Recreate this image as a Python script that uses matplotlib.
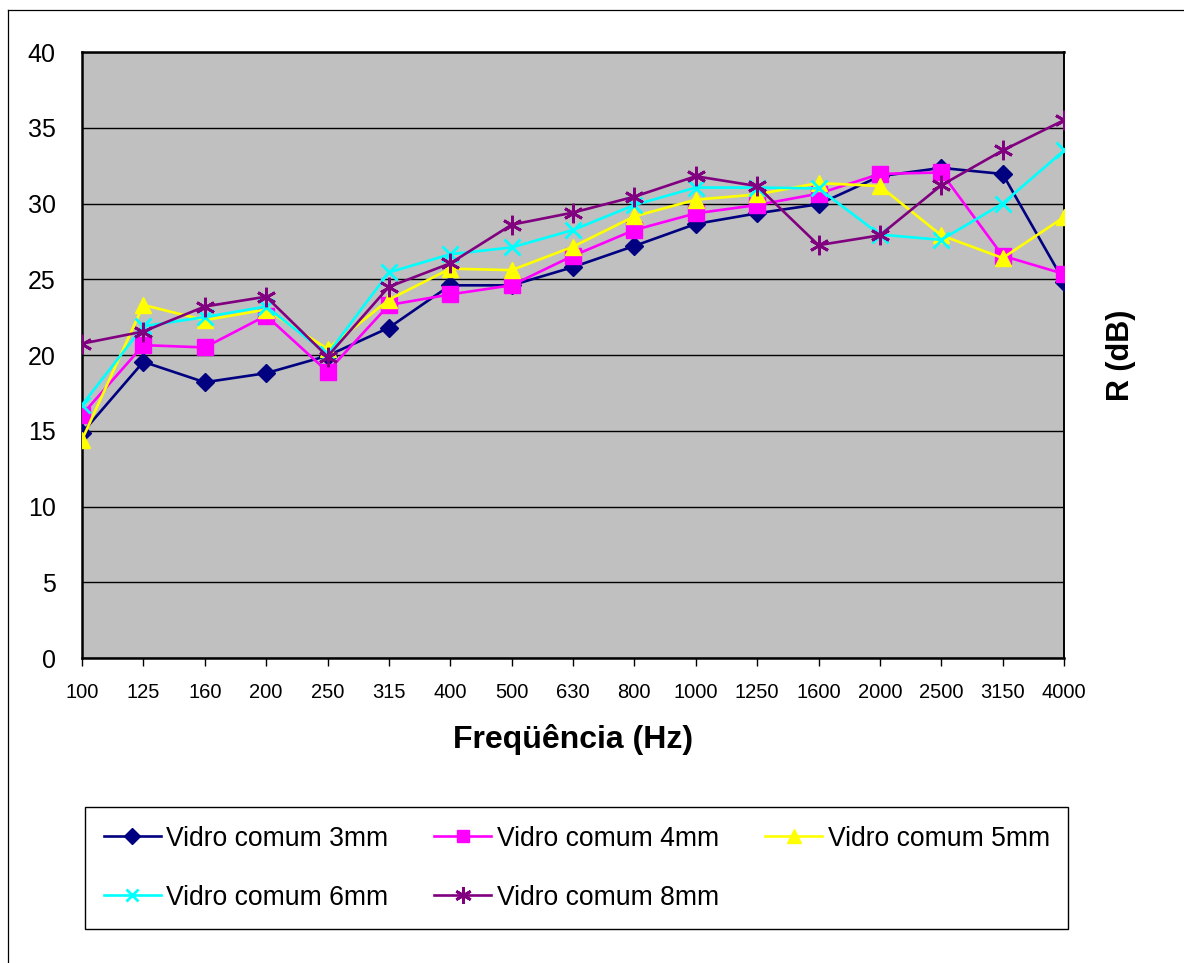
import matplotlib
matplotlib.use("Agg")
import matplotlib.pyplot as plt
from matplotlib.lines import Line2D

plt.rcParams['font.family'] = ['Liberation Sans', 'DejaVu Sans']

# frequencias (Hz)
freqs = ['100', '125', '160', '200', '250', '315', '400', '500', '630', '800',
         '1000', '1250', '1600', '2000', '2500', '3150', '4000']

# R (dB)
vidro_3mm = [14.85, 19.55, 18.2, 18.8, 19.95, 21.8, 24.6, 24.6, 25.8, 27.2,
             28.65, 29.35, 29.95, 31.8, 32.35, 31.95, 24.85]
vidro_4mm = [16.05, 20.65, 20.5, 22.6, 18.9, 23.3, 24.0, 24.6, 26.55, 28.25,
             29.35, 29.9, 30.65, 31.95, 32.05, 26.55, 25.35]
vidro_5mm = [14.4, 23.3, 22.3, 23.0, 20.4, 23.65, 25.7, 25.6, 27.15, 29.15,
             30.25, 30.6, 31.35, 31.15, 27.9, 26.4, 29.1]
vidro_6mm = [16.7, 21.9, 22.5, 23.2, 20.05, 25.45, 26.65, 27.1, 28.25, 29.9,
             31.05, 31.05, 31.0, 27.95, 27.6, 30.0, 33.5]
vidro_8mm = [20.75, 21.55, 23.2, 23.85, 19.9, 24.5, 26.05, 28.6, 29.4, 30.45,
             31.8, 31.15, 27.25, 27.9, 31.2, 33.5, 35.5]

labels = ['Vidro comum 3mm', 'Vidro comum 4mm', 'Vidro comum 5mm',
          'Vidro comum 6mm', 'Vidro comum 8mm']
cores = ['#000080', '#FF00FF', '#FFFF00', '#00FFFF', '#800080']

W, H = 1184, 963
fig = plt.figure(figsize=(W / 100, H / 100), dpi=100)

# borda externa (so esquerda e topo aparecem)
fig.add_artist(Line2D([8 / W, 8 / W], [0, 1 - 10 / H], color='black', lw=0.9,
                      transform=fig.transFigure))
fig.add_artist(Line2D([8 / W, 1], [1 - 10 / H, 1 - 10 / H], color='black', lw=0.9,
                      transform=fig.transFigure))

ax = fig.add_axes([82 / W, 1 - 658 / H, (1064 - 82) / W, (658 - 52) / H])
ax.set_facecolor('#C0C0C0')

x = list(range(len(freqs)))
lw = 1.9
p1, = ax.plot(x, vidro_3mm, color=cores[0], lw=lw, marker='D', ms=9.5, label=labels[0], zorder=3)
p2, = ax.plot(x, vidro_4mm, color=cores[1], lw=lw, marker='s', ms=11, label=labels[1], zorder=3)
p3, = ax.plot(x, vidro_5mm, color=cores[2], lw=lw, marker='^', ms=12, label=labels[2], zorder=3)
p4, = ax.plot(x, vidro_6mm, color=cores[3], lw=lw, marker='x', ms=11, mew=2, label=labels[3], zorder=3)
p5, = ax.plot(x, vidro_8mm, color=cores[4], lw=lw, marker=(6, 2, 0), ms=14, mew=2, label=labels[4], zorder=3)

ax.set_xlim(0, len(freqs) - 1)
ax.set_ylim(0, 40)
ax.set_yticks(range(0, 41, 5))
ax.set_xticks(x)
ax.set_xticklabels(freqs)
ax.grid(axis='y', color='black', lw=1.0)
ax.set_axisbelow(True)

for s in ax.spines.values():
    s.set_linewidth(1.8)
    s.set_color('black')
ax.spines['right'].set_linewidth(1.4)

ax.tick_params(axis='x', direction='out', length=6, width=1, pad=12, labelsize=14.5)
ax.tick_params(axis='y', length=0, pad=19, labelsize=18)

ax.set_xlabel('Freqüência (Hz)', fontsize=23, fontweight='bold', labelpad=16)
ax.yaxis.set_label_position('right')
ax.set_ylabel('R (dB)', fontsize=22, fontweight='bold', labelpad=30)

# ordem por linhas: 3mm 4mm 5mm / 6mm 8mm
handles = [p1, p4, p2, p5, p3]
leg = fig.legend(handles=handles, labels=[h.get_label() for h in handles],
                 loc='upper left', bbox_to_anchor=(85 / W, 1 - 807 / H), ncol=3,
                 fontsize=19.1, handlelength=2.15, handletextpad=0.2,
                 columnspacing=1.75, labelspacing=1.25, borderpad=0.7,
                 borderaxespad=0, fancybox=False, framealpha=1, edgecolor='black')
leg.get_frame().set_linewidth(1.0)
for h in leg.legend_handles:
    h.set_markersize(h.get_markersize() * 0.85)

fig.savefig('out.png', dpi=100)
